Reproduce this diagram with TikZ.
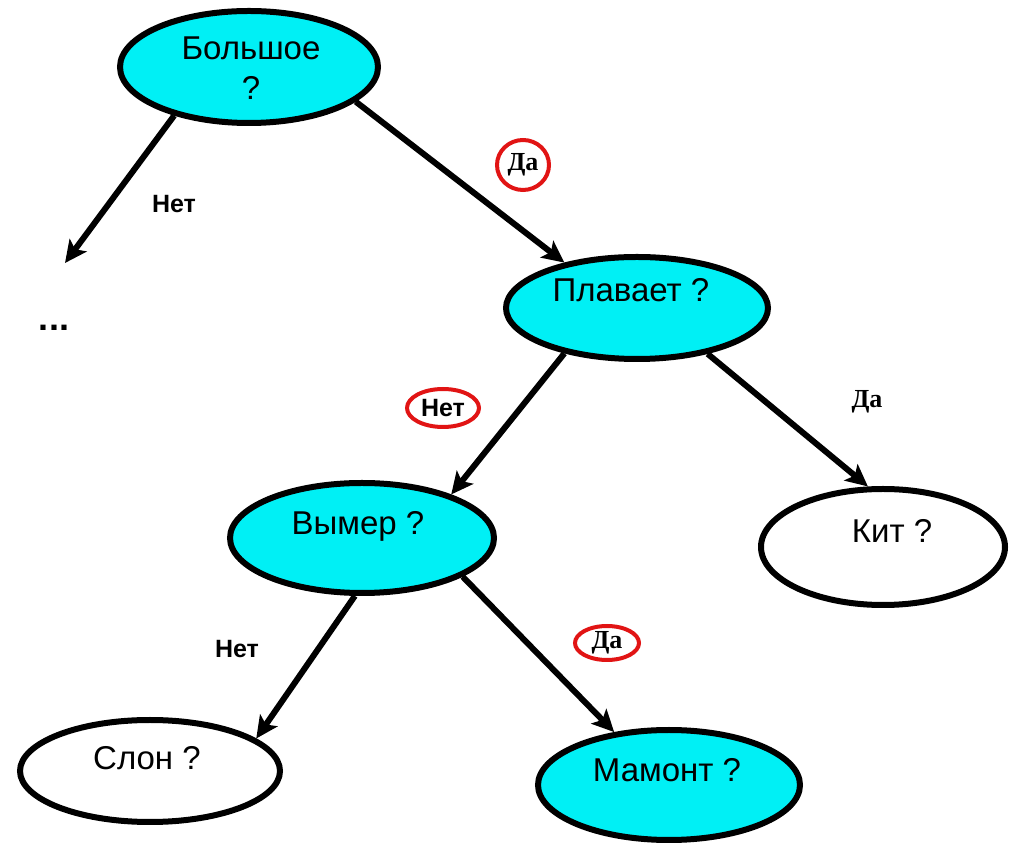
\documentclass[tikz,border=0pt]{standalone}
\usepackage{fontspec}
\setmainfont{Liberation Sans}
\newfontfamily\serifbold{Liberation Serif}[BoldFont={* Bold}]
\usetikzlibrary{shapes.geometric,arrows.meta}
\definecolor{qfill}{RGB}{0,240,245}
\definecolor{mark}{RGB}{225,20,20}
\tikzset{
  x=1pt, y=1pt,
  q/.style={ellipse, draw=black, line width=6pt, inner sep=0pt},
  qyes/.style={q, fill=qfill},
  qno/.style={q, fill=white},
  qtext/.style={anchor=base, font=\fontsize{33}{40}\selectfont, align=center},
  edge/.style={line width=6pt, -{Stealth[length=22pt,width=21pt,inset=5pt]}},
  lab/.style={anchor=base, font=\fontsize{25}{28}\selectfont\bfseries},
  labs/.style={anchor=base, font=\fontsize{26}{28}\selectfont\serifbold\bfseries},
  ring/.style={ellipse, draw=mark, line width=4pt, inner sep=0pt,
               font=\fontsize{26}{28}\selectfont\serifbold\bfseries},
}
\begin{document}
\begin{tikzpicture}
\useasboundingbox (0,0) rectangle (1018,849);

% question ellipses
\node[qyes, minimum width=258, minimum height=112] (big)  at (249,782) {};
\node[qyes, minimum width=262, minimum height=102] (swim) at (637,541) {};
\node[qyes, minimum width=264, minimum height=110] (ext)  at (362,311) {};
\node[qno,  minimum width=244, minimum height=116] (whale) at (883,302) {};
\node[qno,  minimum width=260, minimum height=102] (eleph) at (150,78) {};
\node[qyes, minimum width=262, minimum height=110] (mam)  at (669,64) {};

% texts inside the ellipses (base = last line)
\node[qtext] (tbig)  at (251,749) {Большое\\?};
\node[qtext] (tswim) at (631,547) {Плавает ?};
\node[qtext] (text)  at (358,314) {Вымер ?};
\node[qtext] (twhale) at (892,306) {Кит ?};
\node[qtext] (televh) at (147,79) {Слон ?};
\node[qtext] (tmam)  at (667,67) {Мамонт ?};

% open branch
\coordinate (more) at (65,586);
\node[anchor=base, font=\fontsize{36}{38}\selectfont\bfseries] (dots) at (54,518) {...};

% connectors
\draw[edge] (big.213) -- (more);
\draw[edge] (big.-18) -- (swim.148);
\draw[edge] (swim.212) -- (ext.26);
\draw[edge] (swim.-33) -- (whale.104);
\draw[edge] (ext.263) -- (eleph.17);
\draw[edge] (ext.-21) -- (mam.136);

% answer labels
\node[lab] (no1) at (174,636) {Нет};
\node[ring, minimum width=52, minimum height=50] (yes1) at (523,684) {Да};
\node[ring, font=\fontsize{25}{28}\selectfont\bfseries, minimum width=72, minimum height=38] (no2) at (443,441) {Нет};
\node[labs] (yes2) at (867,441) {Да};
\node[lab] (no3) at (237,191) {Нет};
\node[ring, minimum width=64, minimum height=34] (yes3) at (607,206) {Да};
\end{tikzpicture}
\end{document}
